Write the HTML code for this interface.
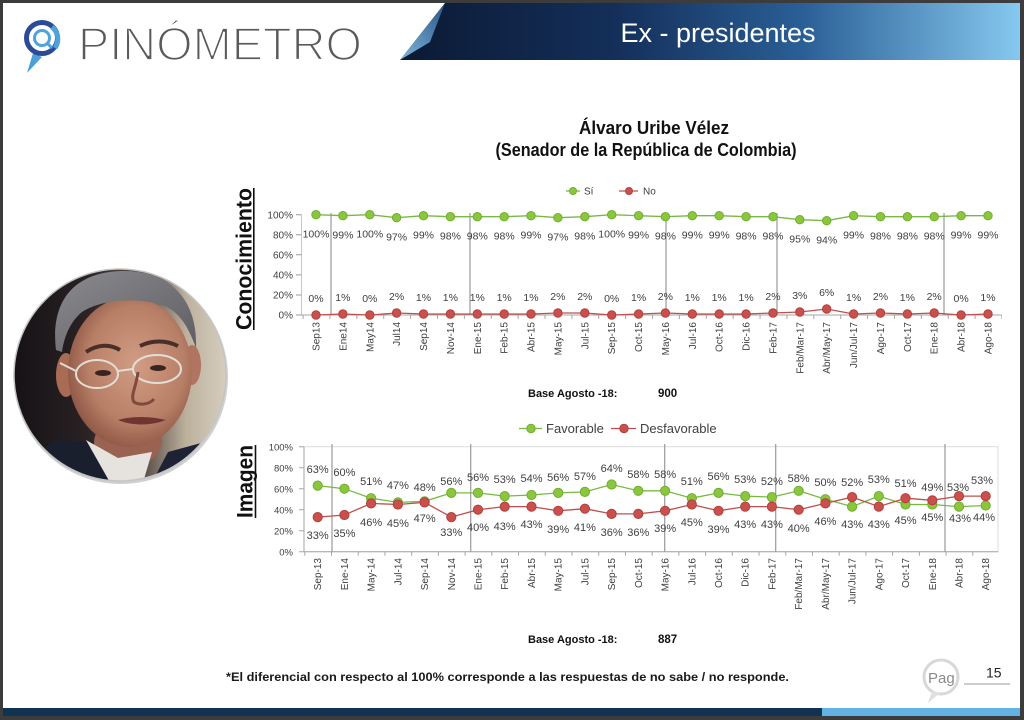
<!DOCTYPE html>
<html><head><meta charset="utf-8"><style>
html,body{margin:0;padding:0;background:#fff;}
body{width:1024px;height:720px;overflow:hidden;}
svg{display:block;}
text{font-family:"Liberation Sans",Arial,sans-serif;}
.lb{font-size:10.5px;fill:#404040;text-anchor:middle;}
.ax{font-size:10px;fill:#404040;text-anchor:end;}
.xl{font-size:10px;fill:#404040;text-anchor:end;}
.gm{fill:#8cc63f;stroke:#6fae2f;stroke-width:1;}
.rm{fill:#c9504d;stroke:#b2403d;stroke-width:1;}
</style></head><body>
<svg width="1024" height="720" viewBox="0 0 1024 720" xmlns="http://www.w3.org/2000/svg">
<defs>
<linearGradient id="ban" x1="0" y1="0" x2="1" y2="0">
<stop offset="0" stop-color="#0b1a34"/><stop offset="0.35" stop-color="#142f5a"/><stop offset="0.65" stop-color="#2a5f96"/><stop offset="1" stop-color="#86c8ef"/>
</linearGradient>
<linearGradient id="fold" x1="0" y1="1" x2="1" y2="0">
<stop offset="0" stop-color="#7fb6dc"/><stop offset="1" stop-color="#2a5688"/>
</linearGradient>
<linearGradient id="bg" x1="0" y1="0" x2="1" y2="0">
<stop offset="0" stop-color="#141114"/><stop offset="0.35" stop-color="#2a2224"/><stop offset="0.62" stop-color="#5e544c"/><stop offset="0.8" stop-color="#bdb19d"/><stop offset="1" stop-color="#d8d0c2"/>
</linearGradient>
<radialGradient id="skin" cx="0.55" cy="0.45" r="0.6">
<stop offset="0" stop-color="#d29c84"/><stop offset="0.65" stop-color="#b77f66"/><stop offset="1" stop-color="#8a5242"/>
</radialGradient>
<linearGradient id="hair" x1="0" y1="0" x2="1" y2="1">
<stop offset="0" stop-color="#8a8a8f"/><stop offset="1" stop-color="#5e5d62"/>
</linearGradient>
<clipPath id="pc"><circle cx="120" cy="375" r="106"/></clipPath>
</defs>

<!-- frame -->
<rect x="0" y="0" width="1024" height="3" fill="#3c3c3c"/>
<rect x="0" y="0" width="3" height="720" fill="#3c3c3c"/>
<rect x="1020" y="0" width="4" height="720" fill="#3c3c3c"/>
<rect x="0" y="716" width="1024" height="4" fill="#3c3c3c"/>

<!-- banner -->
<polygon points="400,60 445,3 1020,3 1020,60" fill="url(#ban)"/>
<polygon points="400,60 445,3 430,42" fill="url(#fold)"/>
<text x="718" y="42" font-size="27" fill="#ffffff" text-anchor="middle">Ex - presidentes</text>

<!-- logo -->
<path d="M33,53 L27,73 L42,57 Z" fill="#4e9fd8"/>
<circle cx="42" cy="38" r="15.5" fill="none" stroke="#2c4b97" stroke-width="5"/>
<path d="M52,27 A15.5,15.5 0 0 1 55,48" fill="none" stroke="#4fa3dc" stroke-width="5"/>
<circle cx="42" cy="38" r="7.5" fill="none" stroke="#4fa3dc" stroke-width="3"/>
<line x1="47" y1="43" x2="52" y2="48" stroke="#4fa3dc" stroke-width="3"/>
<text x="78" y="60" font-size="46" fill="#5a5a5a" stroke="#ffffff" stroke-width="1.8" textLength="284" lengthAdjust="spacingAndGlyphs">PINÓMETRO</text>

<!-- photo -->
<circle cx="121" cy="377" r="107" fill="#d0d0d0"/>
<g clip-path="url(#pc)">
<rect x="10" y="265" width="220" height="220" fill="url(#bg)"/>
<ellipse cx="128" cy="442" rx="34" ry="24" fill="#9a6250"/>
<path d="M10,475 L55,440 L92,442 L118,486 L10,486 Z" fill="#1a1f2e"/>
<path d="M168,452 L212,440 L230,486 L150,486 Z" fill="#1d2335"/>
<path d="M86,440 L118,458 L152,452 L142,486 L112,486 Z" fill="#e6e2de"/>
<ellipse cx="66" cy="375" rx="10" ry="22" fill="#a86c55"/>
<ellipse cx="192" cy="365" rx="9" ry="20" fill="#b07460"/>
<ellipse cx="130" cy="372" rx="62" ry="75" fill="url(#skin)"/>
<path d="M56,350 C50,300 75,272 122,271 C170,270 198,300 196,348 C188,325 178,312 165,306 C135,296 100,300 82,312 C70,322 64,337 62,352 Z" fill="url(#hair)"/>
<path d="M86,352 C98,344 110,344 120,350" fill="none" stroke="#4a2e2a" stroke-width="4"/>
<path d="M140,346 C152,340 166,340 178,346" fill="none" stroke="#4a2e2a" stroke-width="4"/>
<ellipse cx="103" cy="373" rx="8" ry="3" fill="#3a2422"/>
<ellipse cx="158" cy="368" rx="8" ry="3" fill="#3a2422"/>
<ellipse cx="97" cy="374" rx="21" ry="14" fill="none" stroke="#e2ddd8" stroke-width="2"/>
<ellipse cx="157" cy="369" rx="24" ry="14" fill="none" stroke="#e2ddd8" stroke-width="2"/>
<line x1="118" y1="371" x2="133" y2="369" stroke="#e2ddd8" stroke-width="2"/>
<line x1="76" y1="371" x2="60" y2="363" stroke="#e2ddd8" stroke-width="2"/>
<path d="M138,372 C136,388 130,396 134,402 C140,406 150,404 154,399" fill="none" stroke="#7e4a3b" stroke-width="3"/>
<path d="M118,420 C132,416 150,416 166,420 C150,426 132,426 118,420 Z" fill="#6e3532"/>
</g>
<circle cx="120" cy="375" r="106" fill="none" stroke="#c4c4c4" stroke-width="1.5"/>

<!-- title -->
<text x="654" y="134" font-size="18" font-weight="bold" fill="#111" text-anchor="middle" textLength="150" lengthAdjust="spacingAndGlyphs">Álvaro Uribe Vélez</text>
<text x="646" y="156" font-size="18" font-weight="bold" fill="#111" text-anchor="middle" textLength="301" lengthAdjust="spacingAndGlyphs">(Senador de la República de Colombia)</text>

<!-- side labels -->
<text transform="translate(251.5,330) rotate(-90)" font-size="22" font-weight="bold" fill="#111" textLength="142" lengthAdjust="spacingAndGlyphs">Conocimiento</text>
<line x1="253.8" y1="188" x2="253.8" y2="330" stroke="#111" stroke-width="1.6"/>
<text transform="translate(252.5,518) rotate(-90)" font-size="22" font-weight="bold" fill="#111" textLength="73" lengthAdjust="spacingAndGlyphs">Imagen</text>
<line x1="255.5" y1="445" x2="255.5" y2="518" stroke="#111" stroke-width="1.6"/>

<!-- ===== TOP CHART ===== -->
<line x1="566" y1="191" x2="580" y2="191" stroke="#78b943" stroke-width="1.3"/>
<circle cx="573" cy="191" r="3.5" class="gm"/>
<text x="584" y="194.5" font-size="10" fill="#404040">Sí</text>
<line x1="619" y1="191" x2="638" y2="191" stroke="#c0504d" stroke-width="1.3"/>
<circle cx="629" cy="191" r="3.5" class="rm"/>
<text x="643" y="194.5" font-size="10" fill="#404040">No</text>

<line x1="301.5" y1="214.7" x2="301.5" y2="315" stroke="#c8c8c8" stroke-width="1"/>
<path d="M296,214.7H301.5M296,234.8H301.5M296,254.8H301.5M296,274.9H301.5M296,295H301.5M296,315H301.5" stroke="#999" stroke-width="1"/>
<line x1="301.5" y1="315" x2="1001.5" y2="315" stroke="#a6a6a6" stroke-width="1"/>
<line x1="302.6" y1="317" x2="1002" y2="317" stroke="#a6a6a6" stroke-width="4" stroke-dasharray="1 25.88"/>
<text class="ax" x="293" y="218.5">100%</text>
<text class="ax" x="293" y="238.5">80%</text>
<text class="ax" x="293" y="258.6">60%</text>
<text class="ax" x="293" y="278.6">40%</text>
<text class="ax" x="293" y="298.7">20%</text>
<text class="ax" x="293" y="318.7">0%</text>

<path d="M331,213V315M470,213V315M666,213V315M777,213V315M944,213V315" stroke="#9a9a9a" stroke-width="1.2"/>

<polyline fill="none" stroke="#78b943" stroke-width="1.3" points="316,214.7 342.9,215.7 369.8,214.7 396.6,217.7 423.5,215.7 450.4,216.7 477.3,216.7 504.2,216.7 531,215.7 557.9,217.7 584.8,216.7 611.7,214.7 638.6,215.7 665.4,216.7 692.3,215.7 719.2,215.7 746.1,216.7 773,216.7 799.8,219.7 826.7,220.7 853.6,215.7 880.5,216.7 907.4,216.7 934.2,216.7 961.1,215.7 988,215.7"/>
<polyline fill="none" stroke="#c0504d" stroke-width="1.3" points="316,315 342.9,314 369.8,315 396.6,313 423.5,314 450.4,314 477.3,314 504.2,314 531,314 557.9,313 584.8,313 611.7,315 638.6,314 665.4,313 692.3,314 719.2,314 746.1,314 773,313 799.8,312 826.7,309 853.6,314 880.5,313 907.4,314 934.2,313 961.1,315 988,314"/>
<g class="gm">
<circle cx="316" cy="214.7" r="4.2"/><circle cx="342.9" cy="215.7" r="4.2"/><circle cx="369.8" cy="214.7" r="4.2"/><circle cx="396.6" cy="217.7" r="4.2"/><circle cx="423.5" cy="215.7" r="4.2"/><circle cx="450.4" cy="216.7" r="4.2"/><circle cx="477.3" cy="216.7" r="4.2"/><circle cx="504.2" cy="216.7" r="4.2"/><circle cx="531" cy="215.7" r="4.2"/><circle cx="557.9" cy="217.7" r="4.2"/><circle cx="584.8" cy="216.7" r="4.2"/><circle cx="611.7" cy="214.7" r="4.2"/><circle cx="638.6" cy="215.7" r="4.2"/><circle cx="665.4" cy="216.7" r="4.2"/><circle cx="692.3" cy="215.7" r="4.2"/><circle cx="719.2" cy="215.7" r="4.2"/><circle cx="746.1" cy="216.7" r="4.2"/><circle cx="773" cy="216.7" r="4.2"/><circle cx="799.8" cy="219.7" r="4.2"/><circle cx="826.7" cy="220.7" r="4.2"/><circle cx="853.6" cy="215.7" r="4.2"/><circle cx="880.5" cy="216.7" r="4.2"/><circle cx="907.4" cy="216.7" r="4.2"/><circle cx="934.2" cy="216.7" r="4.2"/><circle cx="961.1" cy="215.7" r="4.2"/><circle cx="988" cy="215.7" r="4.2"/>
</g>
<g class="rm">
<circle cx="316" cy="315" r="4.2"/><circle cx="342.9" cy="314" r="4.2"/><circle cx="369.8" cy="315" r="4.2"/><circle cx="396.6" cy="313" r="4.2"/><circle cx="423.5" cy="314" r="4.2"/><circle cx="450.4" cy="314" r="4.2"/><circle cx="477.3" cy="314" r="4.2"/><circle cx="504.2" cy="314" r="4.2"/><circle cx="531" cy="314" r="4.2"/><circle cx="557.9" cy="313" r="4.2"/><circle cx="584.8" cy="313" r="4.2"/><circle cx="611.7" cy="315" r="4.2"/><circle cx="638.6" cy="314" r="4.2"/><circle cx="665.4" cy="313" r="4.2"/><circle cx="692.3" cy="314" r="4.2"/><circle cx="719.2" cy="314" r="4.2"/><circle cx="746.1" cy="314" r="4.2"/><circle cx="773" cy="313" r="4.2"/><circle cx="799.8" cy="312" r="4.2"/><circle cx="826.7" cy="309" r="4.2"/><circle cx="853.6" cy="314" r="4.2"/><circle cx="880.5" cy="313" r="4.2"/><circle cx="907.4" cy="314" r="4.2"/><circle cx="934.2" cy="313" r="4.2"/><circle cx="961.1" cy="315" r="4.2"/><circle cx="988" cy="314" r="4.2"/>
</g>

<text class="lb" x="316" y="237.7">100%</text>
<text class="lb" x="342.9" y="238.7">99%</text>
<text class="lb" x="369.8" y="237.7">100%</text>
<text class="lb" x="396.6" y="240.7">97%</text>
<text class="lb" x="423.5" y="238.7">99%</text>
<text class="lb" x="450.4" y="239.7">98%</text>
<text class="lb" x="477.3" y="239.7">98%</text>
<text class="lb" x="504.2" y="239.7">98%</text>
<text class="lb" x="531" y="238.7">99%</text>
<text class="lb" x="557.9" y="240.7">97%</text>
<text class="lb" x="584.8" y="239.7">98%</text>
<text class="lb" x="611.7" y="237.7">100%</text>
<text class="lb" x="638.6" y="238.7">99%</text>
<text class="lb" x="665.4" y="239.7">98%</text>
<text class="lb" x="692.3" y="238.7">99%</text>
<text class="lb" x="719.2" y="238.7">99%</text>
<text class="lb" x="746.1" y="239.7">98%</text>
<text class="lb" x="773" y="239.7">98%</text>
<text class="lb" x="799.8" y="242.7">95%</text>
<text class="lb" x="826.7" y="243.7">94%</text>
<text class="lb" x="853.6" y="238.7">99%</text>
<text class="lb" x="880.5" y="239.7">98%</text>
<text class="lb" x="907.4" y="239.7">98%</text>
<text class="lb" x="934.2" y="239.7">98%</text>
<text class="lb" x="961.1" y="238.7">99%</text>
<text class="lb" x="988" y="238.7">99%</text>
<text class="lb" x="316" y="302">0%</text>
<text class="lb" x="342.9" y="301">1%</text>
<text class="lb" x="369.8" y="302">0%</text>
<text class="lb" x="396.6" y="300">2%</text>
<text class="lb" x="423.5" y="301">1%</text>
<text class="lb" x="450.4" y="301">1%</text>
<text class="lb" x="477.3" y="301">1%</text>
<text class="lb" x="504.2" y="301">1%</text>
<text class="lb" x="531" y="301">1%</text>
<text class="lb" x="557.9" y="300">2%</text>
<text class="lb" x="584.8" y="300">2%</text>
<text class="lb" x="611.7" y="302">0%</text>
<text class="lb" x="638.6" y="301">1%</text>
<text class="lb" x="665.4" y="300">2%</text>
<text class="lb" x="692.3" y="301">1%</text>
<text class="lb" x="719.2" y="301">1%</text>
<text class="lb" x="746.1" y="301">1%</text>
<text class="lb" x="773" y="300">2%</text>
<text class="lb" x="799.8" y="299">3%</text>
<text class="lb" x="826.7" y="296">6%</text>
<text class="lb" x="853.6" y="301">1%</text>
<text class="lb" x="880.5" y="300">2%</text>
<text class="lb" x="907.4" y="301">1%</text>
<text class="lb" x="934.2" y="300">2%</text>
<text class="lb" x="961.1" y="302">0%</text>
<text class="lb" x="988" y="301">1%</text>

<g class="xl">
<text transform="translate(319.5,322) rotate(-90)">Sep13</text>
<text transform="translate(346.4,322) rotate(-90)">Ene14</text>
<text transform="translate(373.3,322) rotate(-90)">May14</text>
<text transform="translate(400.1,322) rotate(-90)">Jul14</text>
<text transform="translate(427,322) rotate(-90)">Sep14</text>
<text transform="translate(453.9,322) rotate(-90)">Nov-14</text>
<text transform="translate(480.8,322) rotate(-90)">Ene-15</text>
<text transform="translate(507.7,322) rotate(-90)">Feb-15</text>
<text transform="translate(534.5,322) rotate(-90)">Abr-15</text>
<text transform="translate(561.4,322) rotate(-90)">May-15</text>
<text transform="translate(588.3,322) rotate(-90)">Jul-15</text>
<text transform="translate(615.2,322) rotate(-90)">Sep-15</text>
<text transform="translate(642.1,322) rotate(-90)">Oct-15</text>
<text transform="translate(668.9,322) rotate(-90)">May-16</text>
<text transform="translate(695.8,322) rotate(-90)">Jul-16</text>
<text transform="translate(722.7,322) rotate(-90)">Oct-16</text>
<text transform="translate(749.6,322) rotate(-90)">Dic-16</text>
<text transform="translate(776.5,322) rotate(-90)">Feb-17</text>
<text transform="translate(803.3,322) rotate(-90)">Feb/Mar-17</text>
<text transform="translate(830.2,322) rotate(-90)">Abr/May-17</text>
<text transform="translate(857.1,322) rotate(-90)">Jun/Jul-17</text>
<text transform="translate(884,322) rotate(-90)">Ago-17</text>
<text transform="translate(910.9,322) rotate(-90)">Oct-17</text>
<text transform="translate(937.7,322) rotate(-90)">Ene-18</text>
<text transform="translate(964.6,322) rotate(-90)">Abr-18</text>
<text transform="translate(991.5,322) rotate(-90)">Ago-18</text>
</g>

<text x="528" y="397" font-size="11" font-weight="bold" fill="#111">Base Agosto -18:</text>
<text x="658" y="397" font-size="11.5" font-weight="bold" fill="#111">900</text>

<!-- ===== BOTTOM CHART ===== -->
<line x1="519" y1="428.5" x2="542" y2="428.5" stroke="#78b943" stroke-width="1.3"/>
<circle cx="531" cy="428.5" r="4.2" class="gm"/>
<text x="546" y="433" font-size="13" fill="#404040">Favorable</text>
<line x1="611" y1="428.5" x2="636" y2="428.5" stroke="#c0504d" stroke-width="1.3"/>
<circle cx="624" cy="428.5" r="4.2" class="rm"/>
<text x="640" y="433" font-size="13" fill="#404040">Desfavorable</text>

<rect x="304" y="446.7" width="694" height="105" fill="none" stroke="#dcdcdc" stroke-width="1"/>
<line x1="304" y1="446.7" x2="304" y2="551.7" stroke="#a6a6a6" stroke-width="1"/>
<path d="M299,446.7H304M299,467.7H304M299,488.7H304M299,509.7H304M299,530.7H304M299,551.7H304" stroke="#a6a6a6" stroke-width="1"/>
<line x1="304" y1="551.7" x2="998" y2="551.7" stroke="#a6a6a6" stroke-width="1"/>
<line x1="304.3" y1="553.7" x2="999" y2="553.7" stroke="#a6a6a6" stroke-width="4" stroke-dasharray="1 25.72"/>
<text class="ax" x="293" y="450.5" style="font-size:9.5px">100%</text>
<text class="ax" x="293" y="471.5" style="font-size:9.5px">80%</text>
<text class="ax" x="293" y="492.5" style="font-size:9.5px">60%</text>
<text class="ax" x="293" y="513.5" style="font-size:9.5px">40%</text>
<text class="ax" x="293" y="534.5" style="font-size:9.5px">20%</text>
<text class="ax" x="293" y="555.5" style="font-size:9.5px">0%</text>
<path d="M332,444V551.7M470.7,444V551.7M664.7,444V551.7M775.7,444V551.7M945,444V551.7" stroke="#9a9a9a" stroke-width="1.2"/>

<polyline fill="none" stroke="#78b943" stroke-width="1.3" points="317.7,485.6 344.4,488.7 371.1,498.2 397.9,502.4 424.6,501.3 451.3,492.9 478,492.9 504.7,496.1 531.5,495 558.2,492.9 584.9,491.9 611.6,484.5 638.3,490.8 665.1,490.8 691.8,498.2 718.5,492.9 745.2,496.1 771.9,497.1 798.7,490.8 825.4,499.2 852.1,506.6 878.8,496.1 905.5,504.5 932.3,504.5 959,506.6 985.7,505.5"/>
<g class="gm">
<circle cx="317.7" cy="485.6" r="4.6"/><circle cx="344.4" cy="488.7" r="4.6"/><circle cx="371.1" cy="498.2" r="4.6"/><circle cx="397.9" cy="502.4" r="4.6"/><circle cx="424.6" cy="501.3" r="4.6"/><circle cx="451.3" cy="492.9" r="4.6"/><circle cx="478" cy="492.9" r="4.6"/><circle cx="504.7" cy="496.1" r="4.6"/><circle cx="531.5" cy="495" r="4.6"/><circle cx="558.2" cy="492.9" r="4.6"/><circle cx="584.9" cy="491.9" r="4.6"/><circle cx="611.6" cy="484.5" r="4.6"/><circle cx="638.3" cy="490.8" r="4.6"/><circle cx="665.1" cy="490.8" r="4.6"/><circle cx="691.8" cy="498.2" r="4.6"/><circle cx="718.5" cy="492.9" r="4.6"/><circle cx="745.2" cy="496.1" r="4.6"/><circle cx="771.9" cy="497.1" r="4.6"/><circle cx="798.7" cy="490.8" r="4.6"/><circle cx="825.4" cy="499.2" r="4.6"/><circle cx="852.1" cy="506.6" r="4.6"/><circle cx="878.8" cy="496.1" r="4.6"/><circle cx="905.5" cy="504.5" r="4.6"/><circle cx="932.3" cy="504.5" r="4.6"/><circle cx="959" cy="506.6" r="4.6"/><circle cx="985.7" cy="505.5" r="4.6"/>
</g>
<polyline fill="none" stroke="#c0504d" stroke-width="1.3" points="317.7,517.1 344.4,515 371.1,503.4 397.9,504.5 424.6,502.4 451.3,517.1 478,509.7 504.7,506.6 531.5,506.6 558.2,510.8 584.9,508.7 611.6,513.9 638.3,513.9 665.1,510.8 691.8,504.5 718.5,510.8 745.2,506.6 771.9,506.6 798.7,509.7 825.4,503.4 852.1,497.1 878.8,506.6 905.5,498.2 932.3,500.3 959,496.1 985.7,496.1"/>
<g class="rm">
<circle cx="317.7" cy="517.1" r="4.6"/><circle cx="344.4" cy="515" r="4.6"/><circle cx="371.1" cy="503.4" r="4.6"/><circle cx="397.9" cy="504.5" r="4.6"/><circle cx="424.6" cy="502.4" r="4.6"/><circle cx="451.3" cy="517.1" r="4.6"/><circle cx="478" cy="509.7" r="4.6"/><circle cx="504.7" cy="506.6" r="4.6"/><circle cx="531.5" cy="506.6" r="4.6"/><circle cx="558.2" cy="510.8" r="4.6"/><circle cx="584.9" cy="508.7" r="4.6"/><circle cx="611.6" cy="513.9" r="4.6"/><circle cx="638.3" cy="513.9" r="4.6"/><circle cx="665.1" cy="510.8" r="4.6"/><circle cx="691.8" cy="504.5" r="4.6"/><circle cx="718.5" cy="510.8" r="4.6"/><circle cx="745.2" cy="506.6" r="4.6"/><circle cx="771.9" cy="506.6" r="4.6"/><circle cx="798.7" cy="509.7" r="4.6"/><circle cx="825.4" cy="503.4" r="4.6"/><circle cx="852.1" cy="497.1" r="4.6"/><circle cx="878.8" cy="506.6" r="4.6"/><circle cx="905.5" cy="498.2" r="4.6"/><circle cx="932.3" cy="500.3" r="4.6"/><circle cx="959" cy="496.1" r="4.6"/><circle cx="985.7" cy="496.1" r="4.6"/>
</g>

<g class="lb" style="font-size:11px">
<text x="317.7" y="473">63%</text>
<text x="344.4" y="476">60%</text>
<text x="371.1" y="485">51%</text>
<text x="397.9" y="489">47%</text>
<text x="424.6" y="491">48%</text>
<text x="451.3" y="485">56%</text>
<text x="478" y="481">56%</text>
<text x="504.7" y="483">53%</text>
<text x="531.5" y="482">54%</text>
<text x="558.2" y="481">56%</text>
<text x="584.9" y="480">57%</text>
<text x="611.6" y="472">64%</text>
<text x="638.3" y="478">58%</text>
<text x="665.1" y="478">58%</text>
<text x="691.8" y="485">51%</text>
<text x="718.5" y="480">56%</text>
<text x="745.2" y="483">53%</text>
<text x="771.9" y="485">52%</text>
<text x="798.7" y="482">58%</text>
<text x="825.4" y="486">50%</text>
<text x="852.1" y="486">52%</text>
<text x="878.8" y="483">53%</text>
<text x="905.5" y="487">51%</text>
<text x="932.3" y="491">49%</text>
<text x="958" y="491">53%</text>
<text x="982" y="484">53%</text>
<text x="317.7" y="539">33%</text>
<text x="344.4" y="537">35%</text>
<text x="371.1" y="526">46%</text>
<text x="397.9" y="527">45%</text>
<text x="424.6" y="522">47%</text>
<text x="451.3" y="536">33%</text>
<text x="478" y="531">40%</text>
<text x="504.7" y="530">43%</text>
<text x="531.5" y="528">43%</text>
<text x="558.2" y="533">39%</text>
<text x="584.9" y="531">41%</text>
<text x="611.6" y="536">36%</text>
<text x="638.3" y="536">36%</text>
<text x="665.1" y="532">39%</text>
<text x="691.8" y="526">45%</text>
<text x="718.5" y="533">39%</text>
<text x="745.2" y="528">43%</text>
<text x="771.9" y="528">43%</text>
<text x="798.7" y="532">40%</text>
<text x="825.4" y="525">46%</text>
<text x="852.1" y="528">43%</text>
<text x="878.8" y="528">43%</text>
<text x="905.5" y="524">45%</text>
<text x="932.3" y="521">45%</text>
<text x="960" y="522">43%</text>
<text x="984" y="521">44%</text>
</g>

<g class="xl">
<text transform="translate(321.2,558) rotate(-90)">Sep-13</text>
<text transform="translate(347.9,558) rotate(-90)">Ene-14</text>
<text transform="translate(374.6,558) rotate(-90)">May-14</text>
<text transform="translate(401.4,558) rotate(-90)">Jul-14</text>
<text transform="translate(428.1,558) rotate(-90)">Sep-14</text>
<text transform="translate(454.8,558) rotate(-90)">Nov-14</text>
<text transform="translate(481.5,558) rotate(-90)">Ene-15</text>
<text transform="translate(508.2,558) rotate(-90)">Feb-15</text>
<text transform="translate(535,558) rotate(-90)">Abr-15</text>
<text transform="translate(561.7,558) rotate(-90)">May-15</text>
<text transform="translate(588.4,558) rotate(-90)">Jul-15</text>
<text transform="translate(615.1,558) rotate(-90)">Sep-15</text>
<text transform="translate(641.8,558) rotate(-90)">Oct-15</text>
<text transform="translate(668.6,558) rotate(-90)">May-16</text>
<text transform="translate(695.3,558) rotate(-90)">Jul-16</text>
<text transform="translate(722,558) rotate(-90)">Oct-16</text>
<text transform="translate(748.7,558) rotate(-90)">Dic-16</text>
<text transform="translate(775.4,558) rotate(-90)">Feb-17</text>
<text transform="translate(802.2,558) rotate(-90)">Feb/Mar-17</text>
<text transform="translate(828.9,558) rotate(-90)">Abr/May-17</text>
<text transform="translate(855.6,558) rotate(-90)">Jun/Jul-17</text>
<text transform="translate(882.3,558) rotate(-90)">Ago-17</text>
<text transform="translate(909,558) rotate(-90)">Oct-17</text>
<text transform="translate(935.8,558) rotate(-90)">Ene-18</text>
<text transform="translate(962.5,558) rotate(-90)">Abr-18</text>
<text transform="translate(989.2,558) rotate(-90)">Ago-18</text>
</g>

<text x="528" y="643" font-size="11" font-weight="bold" fill="#111">Base Agosto -18:</text>
<text x="658" y="643" font-size="11.5" font-weight="bold" fill="#111">887</text>

<text x="226" y="681" font-size="12" font-weight="bold" fill="#1a1a1a" textLength="563" lengthAdjust="spacingAndGlyphs">*El diferencial con respecto al 100% corresponde a las respuestas de no sabe / no responde.</text>

<circle cx="941" cy="677" r="17" fill="none" stroke="#d8d8d8" stroke-width="3"/>
<path d="M932,691 L928,703 L940,693" fill="#e0e0e0"/>
<text x="928" y="683" font-size="15" fill="#8a8a8a">Pag</text>
<text x="986" y="677.5" font-size="14" fill="#222">15</text>
<line x1="964" y1="684" x2="1010" y2="684" stroke="#999" stroke-width="1"/>

<rect x="3" y="708" width="820" height="8" fill="#0f3350"/>
<rect x="822" y="708" width="198" height="8" fill="#62b3e4"/>
</svg>
</body></html>
